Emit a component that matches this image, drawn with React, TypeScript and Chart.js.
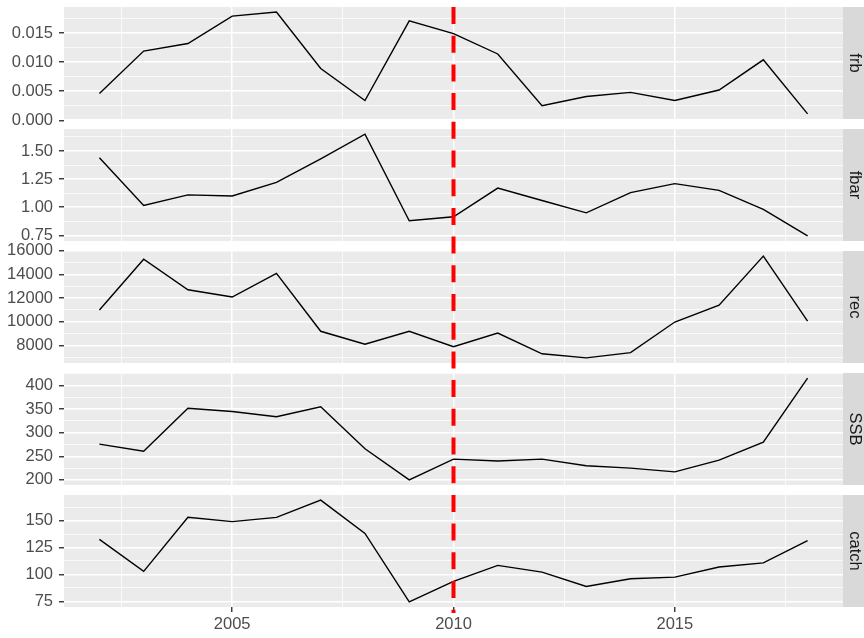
import React, { useEffect, useRef } from 'react';
import { Chart, registerables } from 'chart.js';

Chart.register(...registerables);

// ---- data ----
const years = [2002, 2003, 2004, 2005, 2006, 2007, 2008, 2009, 2010, 2011, 2012, 2013, 2014, 2015, 2016, 2017, 2018];
const frbValues = [0.0046, 0.0119, 0.0132, 0.0179, 0.0186, 0.0089, 0.0034, 0.0171, 0.0149, 0.0114, 0.0025, 0.0041, 0.0048, 0.0034, 0.0052, 0.0104, 0.0011];
const fbarValues = [1.44, 1.015, 1.11, 1.10, 1.22, 1.43, 1.65, 0.88, 0.915, 1.17, 1.06, 0.95, 1.13, 1.21, 1.15, 0.98, 0.745];
const recValues = [11000, 15280, 12710, 12090, 14090, 9200, 8100, 9200, 7900, 9050, 7300, 6950, 7400, 9980, 11400, 15550, 10050];
const ssbValues = [276, 261, 352, 345, 334, 355, 266, 200, 244, 240, 244, 230, 225, 217, 242, 280, 416];
const catchValues = [132.5, 102.8, 153, 149, 153, 169, 138, 74.5, 93.5, 108.4, 102.2, 88.8, 96, 97.5, 106.9, 110.7, 131.3];

const frbTicks = [0, 0.005, 0.01, 0.015];
const fbarTicks = [0.75, 1.0, 1.25, 1.5];
const recTicks = [8000, 10000, 12000, 14000, 16000];
const ssbTicks = [200, 250, 300, 350, 400];
const catchTicks = [75, 100, 125, 150];
const yearTicks = [2005, 2010, 2015];
const refYear = 2010;

const panelNames = ['frb', 'fbar', 'rec', 'SSB', 'catch'];
const panelValues = [frbValues, fbarValues, recValues, ssbValues, catchValues];
const panelTicks = [frbTicks, fbarTicks, recTicks, ssbTicks, catchTicks];
const panelDecimals = [3, 2, 0, 0, 0];

// ---- layout ----
const W = 864;
const H = 638;
const PANEL_TOP0 = 7;
const PITCH = 122;
const PANEL_H = 112;
const HALF_GAP = 5;
const OVERLAP = 16;
const Y_AXIS_W = 64;
const STRIP_W = 21;
const X_AXIS_H = 31;
const RED_END = 613;
const DASH = [17, 11.7];
const FONT = { family: "'Liberation Sans', Arial, sans-serif", size: 16.5 };

function expand(vals: number[], frac: number) {
  const mn = Math.min(...vals);
  const mx = Math.max(...vals);
  const r = mx - mn;
  return [mn - r * frac, mx + r * frac];
}

function withMinors(major: number[], lo: number, hi: number) {
  const step = major[1] - major[0];
  const out: { value: number; major: boolean }[] = [];
  major.forEach((v) => out.push({ value: v, major: true }));
  const first = major[0] - step / 2;
  for (let k = 0; k <= major.length; k++) {
    const v = first + k * step;
    if (v >= lo - 1e-12 && v <= hi + 1e-12) out.push({ value: v, major: false });
  }
  return out.sort((a, b) => a.value - b.value);
}

function isIn(list: number[], v: number) {
  return list.some((t) => Math.abs(t - v) < 1e-9);
}

function canvasBounds(i: number) {
  const top = PANEL_TOP0 + i * PITCH;
  const bottom = top + PANEL_H;
  const cTop = Math.max(0, top - OVERLAP);
  const cBottom = i === 4 ? H : bottom + OVERLAP;
  const segStart = i === 0 ? PANEL_TOP0 : top - HALF_GAP;
  const segEnd = i === 4 ? RED_END : bottom + HALF_GAP;
  return { top, bottom, cTop, cBottom, segStart, segEnd };
}

function makeChart(canvas: HTMLCanvasElement, i: number) {
  const { top, bottom, cTop, cBottom, segStart, segEnd } = canvasBounds(i);
  const isBottom = i === 4;
  const vals = panelValues[i];
  const majors = panelTicks[i];
  const [ymin, ymax] = expand(vals, 0.05);
  const yTickList = withMinors(majors, ymin, ymax);
  const xmin = years[0] - (years[years.length - 1] - years[0]) * 0.05;
  const xmax = years[years.length - 1] + (years[years.length - 1] - years[0]) * 0.05;
  const xTickList = withMinors(yearTicks, xmin, xmax);
  const padTop = top - cTop;
  const padBottom = isBottom ? 0 : cBottom - bottom;

  const plugin = {
    id: 'facetPanel' + i,
    beforeDraw(chart: any) {
      const { ctx, chartArea } = chart;
      ctx.save();
      ctx.fillStyle = '#EBEBEB';
      ctx.fillRect(chartArea.left, chartArea.top, chartArea.right - chartArea.left, chartArea.bottom - chartArea.top);
      ctx.fillStyle = '#D9D9D9';
      ctx.fillRect(chartArea.right, chartArea.top, W - chartArea.right, chartArea.bottom - chartArea.top);
      ctx.translate(chartArea.right + (W - chartArea.right) / 2 + 1, (chartArea.top + chartArea.bottom) / 2);
      ctx.rotate(Math.PI / 2);
      ctx.fillStyle = '#1A1A1A';
      ctx.font = `${FONT.size}px ${FONT.family}`;
      ctx.textAlign = 'center';
      ctx.textBaseline = 'middle';
      ctx.fillText(panelNames[i], 0, 0);
      ctx.restore();
    },
    afterDraw(chart: any) {
      const { ctx } = chart;
      const x = chart.scales.x.getPixelForValue(refYear);
      const pitch = DASH[0] + DASH[1];
      ctx.save();
      ctx.strokeStyle = '#FF0000';
      ctx.lineWidth = 4;
      ctx.lineCap = 'butt';
      ctx.setLineDash(DASH);
      ctx.lineDashOffset = (segStart - PANEL_TOP0) % pitch;
      ctx.beginPath();
      ctx.moveTo(x, segStart - cTop);
      ctx.lineTo(x, segEnd - cTop);
      ctx.stroke();
      ctx.restore();
    },
  };

  return new Chart(canvas, {
    type: 'line',
    data: {
      datasets: [
        {
          data: years.map((y, k) => ({ x: y, y: vals[k] })),
          borderColor: '#000000',
          borderWidth: 1.4,
          pointRadius: 0,
          tension: 0,
          fill: false,
        },
      ],
    },
    options: {
      animation: false,
      responsive: false,
      events: [],
      layout: { padding: { top: padTop, bottom: padBottom, left: 0, right: STRIP_W } },
      plugins: { legend: { display: false }, tooltip: { enabled: false }, title: { display: false } },
      scales: {
        x: {
          type: 'linear',
          min: xmin,
          max: xmax,
          bounds: 'data',
          afterBuildTicks: (s: any) => {
            s.ticks = xTickList.map((t) => ({ value: t.value }));
          },
          afterFit: (s: any) => {
            s.height = isBottom ? X_AXIS_H : 0;
            s.paddingLeft = 0;
            s.paddingRight = 0;
          },
          border: { display: false },
          grid: {
            color: '#FFFFFF',
            lineWidth: (c: any) => (c.tick && isIn(yearTicks, c.tick.value) ? 1.5 : 0.75),
            drawTicks: isBottom,
            tickLength: 5,
            tickWidth: 1.4,
            tickColor: (c: any) => (c.tick && isIn(yearTicks, c.tick.value) ? '#333333' : 'rgba(0,0,0,0)'),
          },
          ticks: {
            display: isBottom,
            autoSkip: false,
            maxRotation: 0,
            color: '#4D4D4D',
            font: FONT,
            padding: 3,
            callback: (v: any) => (isIn(yearTicks, Number(v)) ? String(v) : ''),
          },
        },
        y: {
          type: 'linear',
          min: ymin,
          max: ymax,
          bounds: 'data',
          afterBuildTicks: (s: any) => {
            s.ticks = yTickList.map((t) => ({ value: t.value }));
          },
          afterFit: (s: any) => {
            s.width = Y_AXIS_W;
            s.paddingTop = 0;
            s.paddingBottom = 0;
          },
          border: { display: false },
          grid: {
            color: '#FFFFFF',
            lineWidth: (c: any) => (c.tick && isIn(majors, c.tick.value) ? 1.5 : 0.75),
            drawTicks: true,
            tickLength: 5,
            tickWidth: 1.4,
            tickColor: (c: any) => (c.tick && isIn(majors, c.tick.value) ? '#333333' : 'rgba(0,0,0,0)'),
          },
          ticks: {
            autoSkip: false,
            color: '#4D4D4D',
            font: FONT,
            padding: 6,
            callback: (v: any) => (isIn(majors, Number(v)) ? Number(v).toFixed(panelDecimals[i]) : ''),
          },
        },
      },
    },
    plugins: [plugin],
  } as any);
}

function Panel({ index }: { index: number }) {
  const ref = useRef<HTMLCanvasElement | null>(null);
  const { cTop, cBottom } = canvasBounds(index);
  useEffect(() => {
    if (!ref.current) return;
    const chart = makeChart(ref.current, index);
    return () => chart.destroy();
  }, [index]);
  return (
    <canvas
      ref={ref}
      width={W}
      height={cBottom - cTop}
      style={{ position: 'absolute', left: 0, top: cTop, width: W, height: cBottom - cTop, display: 'block' }}
    />
  );
}

export default function App() {
  return (
    <div style={{ position: 'absolute', left: 0, top: 0, width: W, height: H, background: '#FFFFFF', overflow: 'hidden' }}>
      {panelNames.map((_, i) => (
        <Panel key={i} index={i} />
      ))}
    </div>
  );
}
